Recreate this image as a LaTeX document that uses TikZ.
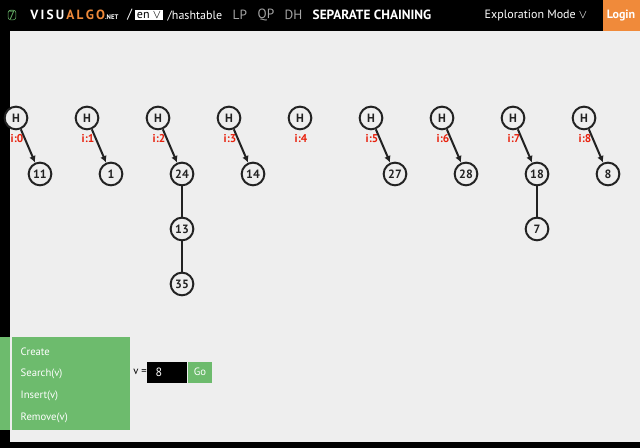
\documentclass[tikz,border=0pt]{standalone}
\usepackage{fontspec}
\setmainfont{PT Sans}
\usetikzlibrary{arrows.meta}
\definecolor{canvas}{HTML}{EEEEEE}
\definecolor{vgreen}{HTML}{6DBB6D}
\definecolor{vorange}{HTML}{F08A3A}
\definecolor{vred}{HTML}{E8200C}
\definecolor{vnode}{HTML}{222222}
\tikzset{
  vx/.style={circle,draw=vnode,line width=1.5pt,fill=canvas,minimum size=17pt,inner sep=0pt,font=\fontsize{9}{10}\selectfont\bfseries,text=vnode},
  lab/.style={text=vred,font=\fontsize{8.5}{10}\selectfont\bfseries},
  ptr/.style={line width=1.5pt,draw=vnode,-{Latex[length=5pt,width=5pt]}},
  chain/.style={line width=1.5pt,draw=vnode},
  menu/.style={text=white,font=\fontsize{8}{9}\selectfont,anchor=west},
  top/.style={text=white,font=\fontsize{10}{11}\selectfont,anchor=west},
  topg/.style={text=gray!70,font=\fontsize{10}{11}\selectfont,anchor=west}
}
\begin{document}
\begin{tikzpicture}[x=0.75pt,y=-0.75pt]
\useasboundingbox (0,0) rectangle (640,448);
\fill[black] (0,0) rectangle (640,448);
\fill[canvas] (10,31) rectangle (640,442);
\fill[vorange] (603,0) rectangle (640,31);
% top bar
\node[text=vgreen,font=\fontsize{9}{10}\selectfont,draw=vgreen,rounded corners=2pt,inner sep=0.5pt] (seven) at (12,15) {7};
\node[top,font=\fontsize{10}{11}\selectfont\bfseries,inner sep=0pt] (logo) at (30,15) {V\,I\,S\,U\,\textcolor{vorange}{A\,L\,G\,O}\textcolor{white}{\fontsize{5}{6}\selectfont .NET}};
\node[top,font=\fontsize{10}{11}\selectfont,inner sep=0pt] (slash) at (127,15) {/};
\node[fill=white,text=black,font=\fontsize{9}{10}\selectfont,inner sep=1.5pt] (en) at (149,15) {en $\vee$};
\node[top,font=\fontsize{9}{10}\selectfont] (path) at (163,16) {/hashtable};
\node[topg] (lp) at (228,15) {LP};
\node[topg] (qp) at (253,15) {QP};
\node[topg] (dh) at (280,15) {DH};
\node[top,font=\fontsize{10}{11}\selectfont\bfseries] (sc) at (308,15) {SEPARATE CHAINING};
\node[top,font=\fontsize{9}{10}\selectfont] (em) at (480,15) {Exploration Mode $\vee$};
\node[text=white,font=\fontsize{9}{10}\selectfont\bfseries] (login) at (621,16) {Login};
% hash heads
\foreach \i/\x in {0/16,1/87,2/158,3/229,4/300,5/371,6/442,7/513,8/584}{
  \node[vx] (h\i) at (\x,118) {H};
  \node[lab] (l\i) at (\x+1,139) {i:\i};
}
\node[vx] (n11) at (40,174) {11};
\node[vx] (n1) at (111,174) {1};
\node[vx] (n24) at (182,174) {24};
\node[vx] (n13) at (182,229) {13};
\node[vx] (n35) at (182,284) {35};
\node[vx] (n14) at (253,174) {14};
\node[vx] (n27) at (395,174) {27};
\node[vx] (n28) at (466,174) {28};
\node[vx] (n18) at (537,174) {18};
\node[vx] (n7) at (537,229) {7};
\node[vx] (n8) at (608,174) {8};
\draw[ptr] (h0) -- (n11);
\draw[ptr] (h1) -- (n1);
\draw[ptr] (h2) -- (n24);
\draw[ptr] (h3) -- (n14);
\draw[ptr] (h5) -- (n27);
\draw[ptr] (h6) -- (n28);
\draw[ptr] (h7) -- (n18);
\draw[ptr] (h8) -- (n8);
\draw[chain] (n24) -- (n13);
\draw[chain] (n13) -- (n35);
\draw[chain] (n18) -- (n7);
% panel
\fill[vgreen] (0,337) rectangle (10,430);
\fill[vgreen] (12,337) rectangle (130,430);
\node[menu] (create) at (16,352) {Create};
\node[menu] (search) at (16,374) {Search(v)};
\node[menu] (insert) at (16,396) {Insert(v)};
\node[menu] (remove) at (16,418) {Remove(v)};
\node[font=\fontsize{8}{9}\selectfont,anchor=west,inner sep=0pt] (veq) at (133,372) {v =};
\fill[black] (147,362) rectangle (187,383);
\node[text=white,font=\fontsize{9}{10}\selectfont,anchor=west] (val) at (151,372) {8};
\fill[vgreen] (188,362) rectangle (212,383);
\node[text=white,font=\fontsize{8}{9}\selectfont] (go) at (200,372) {Go};
\end{tikzpicture}
\end{document}
